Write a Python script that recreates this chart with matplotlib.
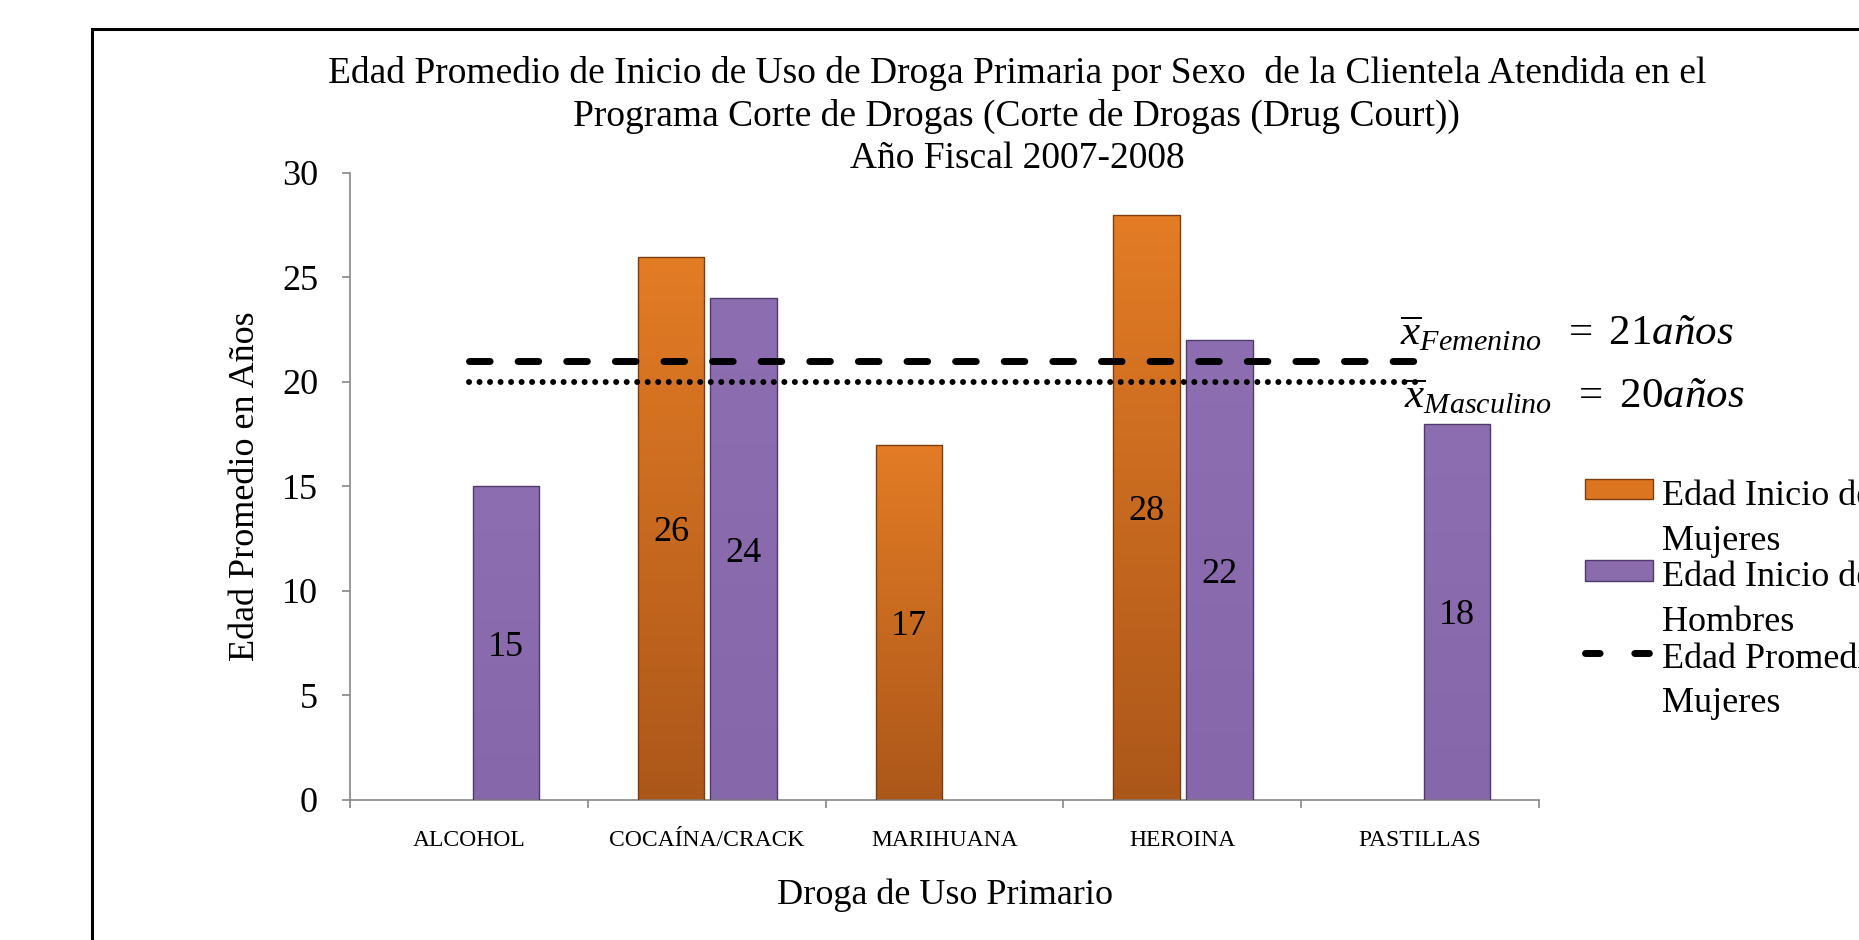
import numpy as np
import matplotlib
matplotlib.use("Agg")
import matplotlib.pyplot as plt
from matplotlib.patches import Rectangle
from matplotlib.lines import Line2D
from matplotlib.legend_handler import HandlerPatch, HandlerLine2D
from matplotlib.colors import LinearSegmentedColormap
from matplotlib.transforms import Affine2D

plt.rcParams["font.family"] = ["Liberation Serif", "DejaVu Serif"]
plt.rcParams["mathtext.fontset"] = "custom"
plt.rcParams["mathtext.rm"] = "Liberation Serif"
plt.rcParams["mathtext.it"] = "Liberation Serif:italic"

# datos
drogas = ["ALCOHOL", "COCAÍNA/CRACK", "MARIHUANA", "HEROINA", "PASTILLAS"]
mujeres = [np.nan, 26, 17, 28, np.nan]
hombres = [15, 24, np.nan, 22, 18]
prom_mujeres = 21
prom_hombres = 20

titulo = ("Edad Promedio de Inicio de Uso de Droga Primaria por Sexo  de la Clientela Atendida en el\n"
          "Programa Corte de Drogas (Corte de Drogas (Drug Court))\n"
          "Año Fiscal 2007-2008")

NARANJA = "#DB7520"
MORADO = "#8A6CAD"
GRIS = "#868686"
SUBIR = 0.82  # subir el simbolo de la leyenda a la primera linea


def sombrear(ax, barras, arriba, abajo):
    cmap = LinearSegmentedColormap.from_list("g", [abajo, arriba])
    grad = np.linspace(0, 1, 256).reshape(-1, 1)
    for r in barras:
        h = r.get_height()
        if np.isnan(h):
            continue
        x0 = r.get_x()
        im = ax.imshow(grad, cmap=cmap, origin="lower", aspect="auto",
                       extent=[x0, x0 + r.get_width(), 0, h], zorder=2.1)
        im.set_clip_path(r)


class PatchArriba(HandlerPatch):
    def create_artists(self, legend, orig_handle, xdescent, ydescent, width, height, fontsize, trans):
        t = Affine2D().translate(0, fontsize * SUBIR) + trans
        return super().create_artists(legend, orig_handle, xdescent, ydescent, width, height, fontsize, t)


class LineaArriba(HandlerLine2D):
    def create_artists(self, legend, orig_handle, xdescent, ydescent, width, height, fontsize, trans):
        t = Affine2D().translate(0, fontsize * SUBIR) + trans
        return super().create_artists(legend, orig_handle, xdescent, ydescent, width, height, fontsize, t)


def main():
    fig = plt.figure(figsize=(18.59, 9.40), dpi=100)
    ax = fig.add_axes([0.1883, 0.149, 0.6396, 0.667])

    x = np.arange(len(drogas))
    w = 0.28
    b1 = ax.bar(x - 0.15, mujeres, w, color=NARANJA, zorder=2)
    b2 = ax.bar(x + 0.155, hombres, w, color=MORADO, zorder=2)
    sombrear(ax, b1, "#E37C25", "#AC571A")
    sombrear(ax, b2, "#8D6FB1", "#8667A9")
    ax.bar(x - 0.15, mujeres, w, fill=False, edgecolor="#7A3E12", linewidth=1.0, zorder=3)
    ax.bar(x + 0.155, hombres, w, fill=False, edgecolor="#4F3B6B", linewidth=1.0, zorder=3)

    etq_m = ["" if np.isnan(v) else f"{v:g}" for v in mujeres]
    etq_h = ["" if np.isnan(v) else f"{v:g}" for v in hombres]
    t1 = ax.bar_label(b1, labels=etq_m, label_type="center", fontsize=26, zorder=4)
    t2 = ax.bar_label(b2, labels=etq_h, label_type="center", fontsize=26, zorder=4)
    for t in t1 + t2:
        t.set_va("center_baseline")

    ax.plot([x[0], x[-1]], [prom_mujeres] * 2, color="black", lw=5,
            dashes=(2.97, 4.03), dash_capstyle="round", zorder=5)
    ax.plot([x[0], x[-1]], [prom_hombres] * 2, color="black", lw=4.3,
            dashes=(0.01, 1.75), dash_capstyle="round", zorder=5)

    ax.text(3.915, 21.77, r"$\overline{x}_{Femenino}\ \ =\ 21años$", fontsize=31,
            ha="left", va="baseline", zorder=6)
    ax.text(3.93, 18.76, r"$\overline{x}_{Masculino}\ \ =\ 20años$", fontsize=31,
            ha="left", va="baseline", zorder=6)

    ax.set_xlim(-0.5, 4.5)
    ax.set_ylim(0, 30)
    ax.set_yticks(range(0, 31, 5))
    ax.set_xticks(x)
    ax.set_xticklabels(drogas, fontsize=17)
    ax.set_xticks(np.arange(-0.5, 5, 1), minor=True)
    ax.tick_params(axis="x", which="major", length=0, pad=22)
    ax.tick_params(axis="x", which="minor", length=6, width=1.2, color=GRIS, direction="out")
    ax.tick_params(axis="y", length=6, width=1.2, color=GRIS, direction="out", pad=17, labelsize=26)
    for s in ["top", "right"]:
        ax.spines[s].set_visible(False)
    for s in ["left", "bottom"]:
        ax.spines[s].set_color(GRIS)
        ax.spines[s].set_linewidth(1.2)

    ax.set_ylabel("Edad Promedio en Años", fontsize=26)
    ax.yaxis.set_label_coords(-0.074, 0.5)
    ax.set_xlabel("Droga de Uso Primario", fontsize=26)
    ax.xaxis.set_label_coords(0.5, -0.125)

    fig.text(0.547, 1 - 116 / 940, titulo, ha="center", va="center", fontsize=27, linespacing=1.27)

    marco = Rectangle((92 / 1859, -0.1), 1.2, 1 - 29 / 940 + 0.1, transform=fig.transFigure,
                      fill=False, edgecolor="black", linewidth=2.2)
    fig.patches.append(marco)

    h1 = Rectangle((0, 0), 1, 1, facecolor=NARANJA, edgecolor="#7A3E12")
    h2 = Rectangle((0, 0), 1, 1, facecolor=MORADO, edgecolor="#4F3B6B")
    h3 = Line2D([], [], color="black", lw=5, dashes=(2.1, 5.0), dash_capstyle="round")
    leg = fig.legend([h1, h2, h3],
                     ["Edad Inicio de Uso\nMujeres", "Edad Inicio de Uso\nHombres", "Edad Promedio\nMujeres"],
                     loc="upper left", bbox_to_anchor=(0.8526, 0.4894), frameon=False,
                     fontsize=26, borderpad=0, borderaxespad=0, handlelength=1.88, handleheight=0.5,
                     handletextpad=0.25, labelspacing=0.1,
                     handler_map={Rectangle: PatchArriba(), Line2D: LineaArriba()})
    for t in leg.get_texts():
        t.set_linespacing(1.47)

    fig.savefig("out.png", dpi=100)


if __name__ == "__main__":
    main()
